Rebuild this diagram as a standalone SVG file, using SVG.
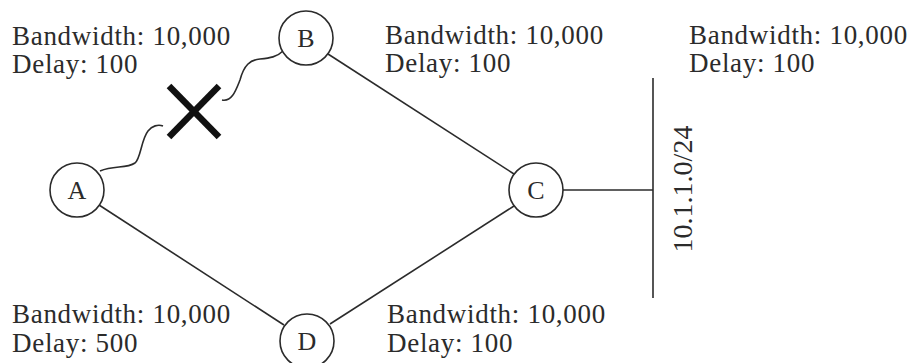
<svg xmlns="http://www.w3.org/2000/svg" width="912" height="363" viewBox="0 0 912 363">
<style>
.lbl{font-family:"Liberation Serif","Times New Roman",serif;font-size:27px;letter-spacing:0.7px;fill:#2b2b2b}
.node circle{fill:#fff;stroke:#2b2b2b;stroke-width:1.6}
.node text{font-family:"Liberation Serif","Times New Roman",serif;font-size:26px;fill:#2b2b2b;text-anchor:middle}
.edge{fill:none;stroke:#2b2b2b;stroke-width:1.6}
.net{font-family:"Liberation Serif","Times New Roman",serif;font-size:28px;fill:#2b2b2b;text-anchor:middle}
</style>
<rect width="912" height="363" fill="#fff"/>
<g id="connectors">
<path class="edge" d="M100,171 C114,165 126,169 135,163 C141,158 141,140 148,131 C152,126 158,124 163,126"/>
<path class="edge" d="M222,100 C232,102 236,90 240,80 C244,65 250,60 260,59 C270,58 277,57 283,51"/>
<line class="edge" x1="328" y1="54" x2="514" y2="174"/>
<line class="edge" x1="99" y1="205" x2="284" y2="325"/>
<line class="edge" x1="330" y1="324" x2="514" y2="206"/>
<line class="edge" x1="563" y1="190" x2="653" y2="190"/>
<line class="edge" x1="653" y1="78" x2="653" y2="298" stroke-width="2"/>
<g id="break" stroke="#111" stroke-width="6.5" stroke-linecap="butt">
<line x1="169" y1="86" x2="219" y2="137"/>
<line x1="219" y1="86" x2="169" y2="137"/>
</g>
</g>
<g id="A" class="node"><circle cx="77" cy="190" r="27"/><text x="77" y="199">A</text></g>
<g id="B" class="node"><circle cx="306" cy="38" r="27"/><text x="306" y="47">B</text></g>
<g id="C" class="node"><circle cx="536" cy="190" r="27"/><text x="536" y="199">C</text></g>
<g id="D" class="node"><circle cx="307" cy="341" r="27"/><text x="307" y="350">D</text></g>
<g id="network"><text class="net" transform="translate(692,189) rotate(-90)">10.1.1.0/24</text></g>
<g id="labels">
<text class="lbl" x="12" y="45">Bandwidth: 10,000</text>
<text class="lbl" x="12" y="73">Delay: 100</text>
<text class="lbl" x="385" y="44">Bandwidth: 10,000</text>
<text class="lbl" x="385" y="72">Delay: 100</text>
<text class="lbl" x="689" y="44">Bandwidth: 10,000</text>
<text class="lbl" x="689" y="72">Delay: 100</text>
<text class="lbl" x="12" y="323">Bandwidth: 10,000</text>
<text class="lbl" x="12" y="352">Delay: 500</text>
<text class="lbl" x="387" y="323">Bandwidth: 10,000</text>
<text class="lbl" x="387" y="352">Delay: 100</text>
</g>
</svg>
